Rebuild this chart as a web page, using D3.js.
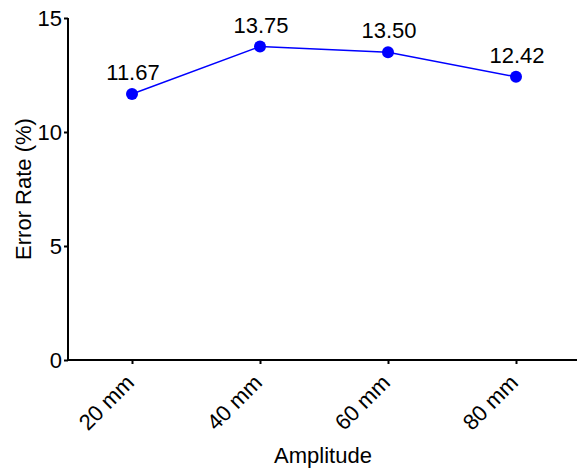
<!DOCTYPE html>
<html>
<head>
<meta charset="utf-8">
<script src="https://cdn.jsdelivr.net/npm/d3@7"></script>
<style>
  html, body { margin: 0; padding: 0; background: #fff; }
  svg { display: block; font-family: "Liberation Sans", Arial, sans-serif; }
</style>
</head>
<body>
<svg id="chart" width="577" height="470"></svg>
<script>
// Error rate by amplitude
const categories = ["20 mm", "40 mm", "60 mm", "80 mm"];
const errorRates = [11.67, 13.75, 13.50, 12.42];
const yTicks = [0, 5, 10, 15];

const svg = d3.select("#chart");
const W = 577;
const left = 68;
const FONT = "Liberation Sans, Arial, sans-serif";

const x = d3.scalePoint()
  .domain(categories)
  .range([left, W + 3])
  .padding(0.5);

const y = d3.scaleLinear()
  .domain([0, 15])
  .range([360, 18]);

// Y axis
const yAxis = svg.append("g")
  .attr("transform", `translate(${left},0)`)
  .call(d3.axisLeft(y).tickValues(yTicks).tickSize(4).tickSizeOuter(0).tickPadding(2));
yAxis.select(".domain").attr("stroke", "#000").attr("stroke-width", 2)
  .attr("d", `M0,${y(15)}V${y(0) + 1}`);
yAxis.selectAll(".tick line").attr("stroke", "#000").attr("stroke-width", 2);
yAxis.selectAll(".tick text").attr("font-size", 22).attr("fill", "#000")
  .style("font-family", FONT);

// X axis
const xAxis = svg.append("g")
  .attr("transform", `translate(0,${y(0)})`)
  .call(d3.axisBottom(x).tickSize(4).tickSizeOuter(0));
xAxis.select(".domain").attr("stroke", "#000").attr("stroke-width", 2)
  .attr("d", `M${left - 1},0H${W}`);
xAxis.selectAll(".tick line").attr("stroke", "#000").attr("stroke-width", 2);
xAxis.selectAll(".tick text")
  .attr("font-size", 22).attr("fill", "#000")
  .style("font-family", FONT)
  .attr("text-anchor", "end")
  .attr("dy", null).attr("y", 0)
  .attr("transform", "translate(3,24) rotate(-45)");

// Axis titles
svg.append("text")
  .attr("x", 323)
  .attr("y", 463)
  .attr("text-anchor", "middle")
  .attr("font-size", 22)
  .text("Amplitude");

svg.append("text")
  .attr("transform", `translate(31,${y(7.5)}) rotate(-90)`)
  .attr("text-anchor", "middle")
  .attr("font-size", 22)
  .text("Error Rate (%)");

// Line and points
const line = d3.line()
  .x((d, i) => x(categories[i]))
  .y(d => y(d));

svg.append("path")
  .datum(errorRates)
  .attr("fill", "none")
  .attr("stroke", "#0000ff")
  .attr("stroke-width", 1.5)
  .attr("d", line);

svg.selectAll("circle.pt")
  .data(errorRates)
  .enter().append("circle")
  .attr("class", "pt")
  .attr("cx", (d, i) => x(categories[i]))
  .attr("cy", d => y(d))
  .attr("r", 6)
  .attr("fill", "#0000ff");

svg.selectAll("text.val")
  .data(errorRates)
  .enter().append("text")
  .attr("class", "val")
  .attr("x", (d, i) => x(categories[i]) + 1)
  .attr("y", d => y(d) - 14)
  .attr("text-anchor", "middle")
  .attr("font-size", 22)
  .text(d => d.toFixed(2));
</script>
</body>
</html>
